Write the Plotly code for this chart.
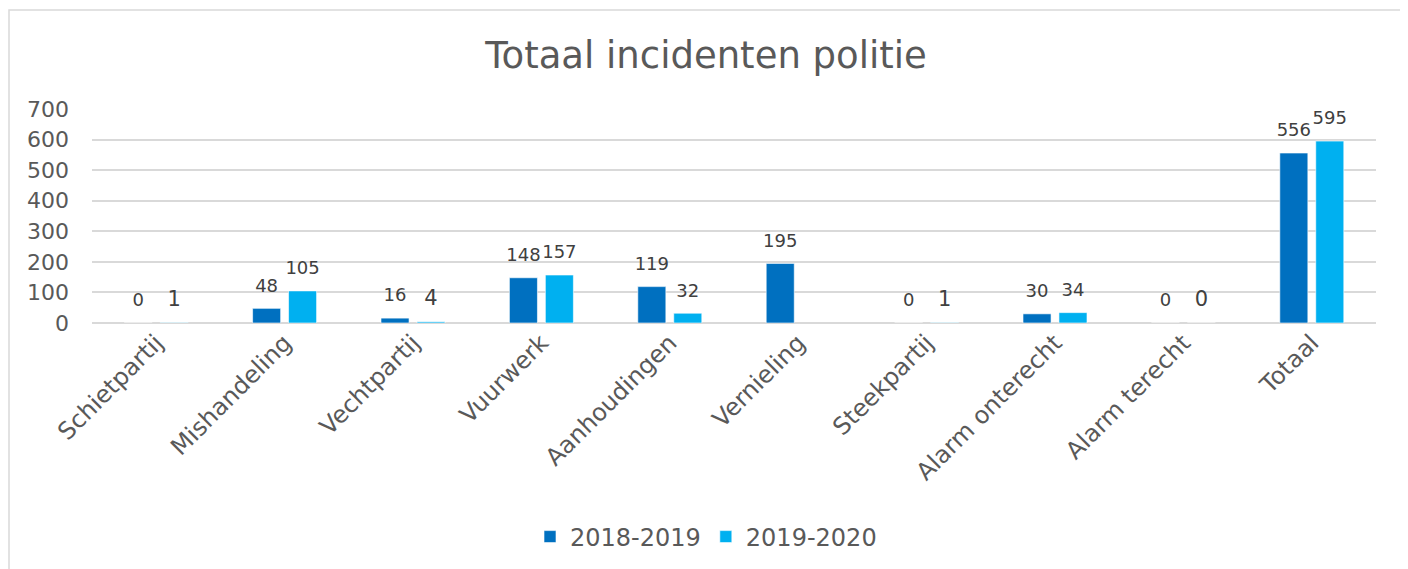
import plotly.graph_objects as go

categories = ["Schietpartij", "Mishandeling", "Vechtpartij", "Vuurwerk", "Aanhoudingen",
              "Vernieling", "Steekpartij", "Alarm onterecht", "Alarm terecht", "Totaal"]
series_names = ["2018-2019", "2019-2020"]
values_2018_2019 = [0, 48, 16, 148, 119, 195, 0, 30, 0, 556]
values_2019_2020 = [1, 105, 4, 157, 32, None, 1, 34, 0, 595]
label_sizes_2018_2019 = [18, 18, 18, 18, 18, 18, 18, 18, 18, 18]
label_sizes_2019_2020 = [21, 18, 21, 18, 18, 18, 21, 18, 21, 18]
colors = ["#0070C0", "#00B0F0"]

FONT = "DejaVu Sans, Verdana, sans-serif"

# page body adds an 8px offset; figure is sized/positioned to compensate
W, H = 1400, 561
L, R, T, B = 84, 32, 101, 246
PW, PH = W - L - R, H - T - B

def label(v, s):
    if v is None:
        return ""
    return f"<span style='font-size:{s}px'>{v}</span><br>\u00a0"

fig = go.Figure()
for name, vals, sizes, col in zip(series_names,
                                  [values_2018_2019, values_2019_2020],
                                  [label_sizes_2018_2019, label_sizes_2019_2020],
                                  colors):
    fig.add_trace(go.Bar(
        name=name, x=categories, y=vals,
        marker=dict(color=col, line=dict(color="rgba(255,255,255,0.6)", width=1)),
        text=[label(v, s) for v, s in zip(vals, sizes)],
        textposition="outside", cliponaxis=False, constraintext="none",
        textfont=dict(family=FONT, size=9, color="#404040"),
        hoverinfo="skip",
    ))

fig.update_layout(
    width=W, height=H,
    margin=dict(l=L, r=R, t=T, b=B, autoexpand=False),
    paper_bgcolor="white", plot_bgcolor="white",
    barmode="group", bargap=0.44, bargroupgap=0.22,
    title=dict(text="Totaal incidenten politie", x=0.4986, y=1 - 47 / H,
               xanchor="center", yanchor="middle",
               font=dict(family=FONT, size=37, color="#595959")),
    font=dict(family=FONT, color="#595959"),
    showlegend=True,
    legend=dict(orientation="h", x=(698 - L) / PW, y=(H - B - 529) / PH,
                xanchor="center", yanchor="middle",
                font=dict(family=FONT, size=24, color="#595959"),
                itemwidth=30, tracegroupgap=0, bgcolor="rgba(0,0,0,0)"),
    xaxis=dict(tickangle=-45, tickfont=dict(family=FONT, size=24, color="#595959"),
               showgrid=False, showline=False, ticks="", automargin=False),
    yaxis=dict(range=[0, 700], dtick=100, tickfont=dict(family=FONT, size=22, color="#595959"),
               showgrid=True, gridcolor="#d9d9d9", gridwidth=2,
               zeroline=True, zerolinecolor="#d9d9d9", zerolinewidth=2,
               ticks="", ticklabelstandoff=22, automargin=False),
    shapes=[dict(type="rect", xref="paper", yref="paper",
                 x0=(1 - L) / PW, x1=(1397 - L) / PW,
                 y0=-1.2, y1=(H - B - 2) / PH,
                 line=dict(color="#d9d9d9", width=1.5), layer="below")],
)

fig.write_html("out.html")
